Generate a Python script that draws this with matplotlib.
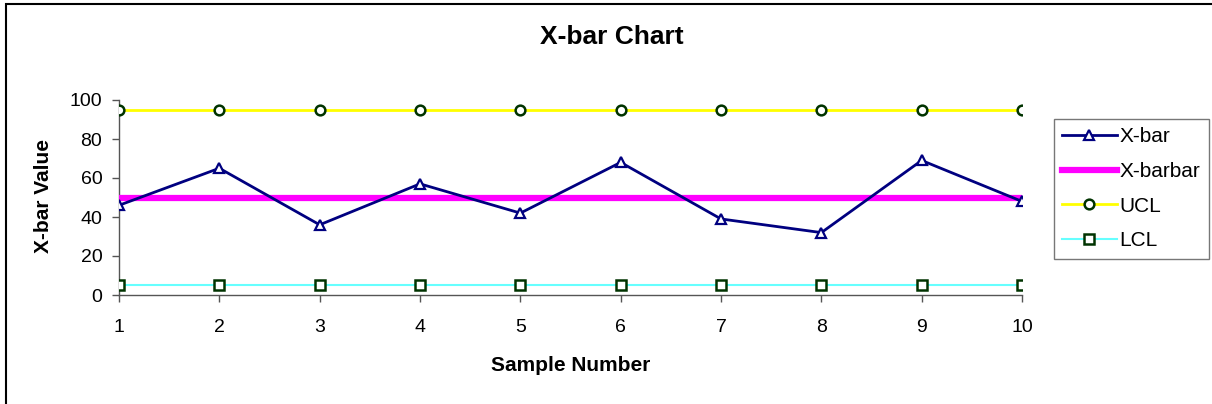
import matplotlib
matplotlib.use("Agg")
import matplotlib.pyplot as plt
from matplotlib.patches import Rectangle

# Sample means for each subgroup and the control limits
samples = [1, 2, 3, 4, 5, 6, 7, 8, 9, 10]
xbar = [46, 65, 36, 57, 42, 68, 39, 32, 69, 48]
xbarbar = [50] * 10
ucl = [95] * 10
lcl = [5] * 10
yticks = [0, 20, 40, 60, 80, 100]

plt.rcParams['font.family'] = ['Liberation Sans', 'DejaVu Sans']

fig = plt.figure(figsize=(12.12, 4.04), dpi=100)
ax = fig.add_axes([119 / 1212, 1 - 295 / 404, (1022 - 119) / 1212, (295 - 100) / 404])

marker_edge = '#003300'
ax.plot(samples, xbar, color='#000080', lw=2, marker='^', ms=7,
        mfc='white', mec='#000080', mew=1.6, label='X-bar', zorder=5)
ax.plot(samples, xbarbar, color='#FF00FF', lw=4.5, solid_capstyle='projecting',
        label='X-barbar', zorder=4)
ax.plot(samples, ucl, color='#FFFF00', lw=2, marker='o', ms=7,
        mfc='white', mec=marker_edge, mew=1.8, label='UCL', zorder=3)
ax.plot(samples, lcl, color='#66FFFF', lw=1.5, marker='s', ms=7,
        mfc='white', mec=marker_edge, mew=1.8, label='LCL', zorder=3)

ax.set_xlim(1, 10)
ax.set_ylim(0, 100)
ax.set_xticks(samples)
ax.set_yticks(yticks)
ax.tick_params(axis='both', labelsize=14, color='#555555', length=5, width=1,
               direction='out')
ax.tick_params(axis='x', pad=12)
ax.tick_params(axis='y', pad=7)
for side in ('top', 'right'):
    ax.spines[side].set_visible(False)
for side in ('left', 'bottom'):
    ax.spines[side].set_color('#555555')
    ax.spines[side].set_linewidth(1)
ax.patch.set_alpha(0)

ax.set_xlabel('Sample Number', fontsize=15, fontweight='bold', labelpad=15)
ax.set_ylabel('X-bar Value', fontsize=15, fontweight='bold')
ax.yaxis.set_label_coords(-66 / 903, 0.51)
fig.text(612 / 1212, 1 - 37 / 404, 'X-bar Chart', fontsize=19, fontweight='bold',
         ha='center', va='center')

leg = fig.legend(loc='upper left', bbox_to_anchor=(1054 / 1212, 1 - 119 / 404),
                 fontsize=15, frameon=True, fancybox=False, edgecolor='#555555',
                 handlelength=2.6, handletextpad=0.15, labelspacing=0.75,
                 borderpad=0.4, borderaxespad=0)
leg.get_frame().set_linewidth(1)

# Outer chart frame
fig.patches.append(Rectangle((6 / 1212, -0.1), 1.2, 1 - 4 / 404 + 0.1,
                             transform=fig.transFigure, fill=False,
                             edgecolor='black', lw=1.5, clip_on=False))

fig.savefig('out.png', dpi=100)
